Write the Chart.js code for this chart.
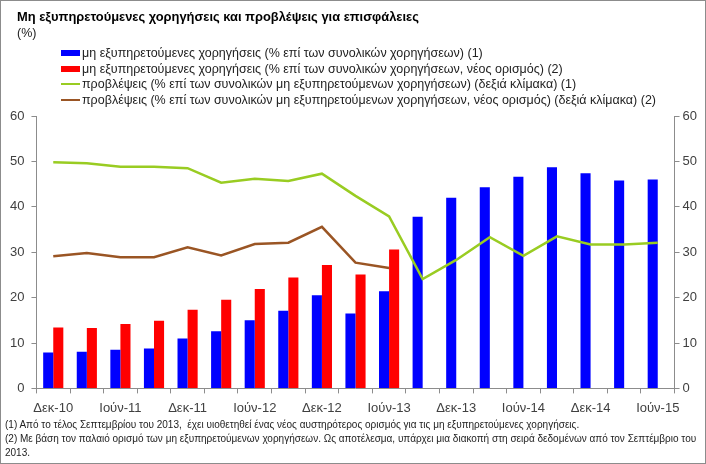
<!DOCTYPE html>
<html>
<head>
<meta charset="utf-8">
<script src="https://cdn.jsdelivr.net/npm/chart.js@4"></script>
<style>
  html, body { margin: 0; padding: 0; background: #fff; }
  #wrap { position: relative; width: 706px; height: 464px; box-sizing: border-box; border: 1px solid #8c8c8c; background: #fff; overflow: hidden; font-family: "Liberation Sans", Arial, sans-serif; }
  #title { position: absolute; left: 16px; top: 8px; font-size: 12.9px; font-weight: bold; color: #000; white-space: nowrap; }
  #unit { position: absolute; left: 16px; top: 25px; font-size: 12.5px; color: #222; }
  #legend { position: absolute; left: 60px; top: 44px; }
  .li { position: absolute; left: 0; height: 16px; white-space: nowrap; font-size: 12.5px; color: #222; line-height: 16px; }
  .mk { position: absolute; left: 0; width: 19px; }
  .lt { position: absolute; left: 21px; top: 0; }
  #cbox { position: absolute; left: 0; top: 0; width: 704px; height: 422px; }
  #notes { position: absolute; left: 4px; top: 417px; font-size: 10px; line-height: 14px; color: #222; white-space: nowrap; font-family: "Liberation Sans", Arial, sans-serif; }
</style>
</head>
<body>
<div id="wrap">
  <div id="cbox"><canvas id="c"></canvas></div>
  <div id="title">Μη εξυπηρετούμενες χορηγήσεις και προβλέψεις για επισφάλειες</div>
  <div id="unit">(%)</div>
  <div id="legend"></div>
  <div id="notes">
    (1) Από το τέλος Σεπτεμβρίου του 2013,&nbsp; έχει υιοθετηθεί ένας νέος αυστηρότερος ορισμός για τις μη εξυπηρετούμενες χορηγήσεις.<br>
    (2) Με βάση τον παλαιό ορισμό των μη εξυπηρετούμενων χορηγήσεων. Ως αποτέλεσμα, υπάρχει μια διακοπή στη σειρά δεδομένων από τον Σεπτέμβριο του<br>
    2013.
  </div>
</div>
<script>
// ---- data ----
const categories = ['Δεκ-10','Μαρ-11','Ιούν-11','Σεπ-11','Δεκ-11','Μαρ-12','Ιούν-12','Σεπ-12','Δεκ-12','Μαρ-13','Ιούν-13','Σεπ-13','Δεκ-13','Μαρ-14','Ιούν-14','Σεπ-14','Δεκ-14','Μαρ-15','Ιούν-15'];
const nplNewDef = [7.9, 8.1, 8.5, 8.8, 11.0, 12.6, 15.0, 17.1, 20.5, 16.5, 21.4, 37.8, 42.0, 44.3, 46.6, 48.7, 47.4, 45.8, 46.0];
const nplOldDef = [13.4, 13.3, 14.2, 14.9, 17.3, 19.5, 21.9, 24.4, 27.2, 25.1, 30.6, null, null, null, null, null, null, null, null];
const provNewDef = [49.8, 49.6, 48.8, 48.8, 48.5, 45.3, 46.2, 45.7, 47.3, 42.4, 37.9, 24.1, 28.3, 33.3, 29.2, 33.5, 31.7, 31.7, 32.1];
const provOldDef = [29.1, 29.8, 28.9, 28.9, 31.1, 29.3, 31.8, 32.1, 35.6, 27.7, 26.5, null, null, null, null, null, null, null, null];
const seriesNames = [
  'μη  εξυπηρετούμενες χορηγήσεις (% επί των συνολικών χορηγήσεων) (1)',
  'μη  εξυπηρετούμενες χορηγήσεις (% επί των συνολικών χορηγήσεων, νέος ορισμός) (2)',
  'προβλέψεις (% επί των συνολικών μη εξυπηρετούμενων χορηγήσεων) (δεξιά κλίμακα) (1)',
  'προβλέψεις (% επί των συνολικών μη εξυπηρετούμενων χορηγήσεων, νέος ορισμός) (δεξιά κλίμακα) (2)'
];
const yTicks = [0, 10, 20, 30, 40, 50, 60];

const BLUE = '#0000ff', RED = '#ff0000', GREEN = '#99cc22', BROWN = '#9a5524';
const AXIS = '#8c8c8c', TXT = '#404040';
const tickFont = { family: '"Liberation Sans", Arial, sans-serif', size: 13 };

const datasets = [
  { type: 'bar', label: seriesNames[0], data: nplNewDef, backgroundColor: BLUE, yAxisID: 'y', order: 2, categoryPercentage: 0.6, barPercentage: 1.0 },
  { type: 'bar', label: seriesNames[1], data: nplOldDef, backgroundColor: RED, yAxisID: 'y', order: 2, categoryPercentage: 0.6, barPercentage: 1.0 },
  { type: 'line', label: seriesNames[2], data: provNewDef, borderColor: GREEN, backgroundColor: GREEN, borderWidth: 2.5, pointRadius: 0, tension: 0, yAxisID: 'y1', order: 0, spanGaps: false },
  { type: 'line', label: seriesNames[3], data: provOldDef, borderColor: BROWN, backgroundColor: BROWN, borderWidth: 2.5, pointRadius: 0, tension: 0, yAxisID: 'y1', order: 0, spanGaps: false }
];

const yScale = (pos) => ({
  position: pos,
  min: yTicks[0], max: yTicks[yTicks.length - 1],
  afterBuildTicks: (s) => { s.ticks = yTicks.map(v => ({ value: v })); },
  ticks: { color: TXT, font: tickFont, padding: pos === 'left' ? 7 : 3 },
  grid: { drawOnChartArea: false, tickLength: 5, color: AXIS, lineWidth: 1 },
  border: { color: AXIS, width: 1 }
});

const chart = new Chart(document.getElementById('c'), {
  data: { labels: categories, datasets },
  options: {
    responsive: true, maintainAspectRatio: false, animation: false,
    layout: { padding: { top: 115, left: 2, right: 5, bottom: 0 } },
    plugins: { legend: { display: false }, title: { display: false }, tooltip: { enabled: false } },
    scales: {
      x: {
        offset: true,
        grid: { offset: true, drawOnChartArea: false, tickLength: 5, color: AXIS },
        border: { color: AXIS },
        ticks: { autoSkip: false, maxRotation: 0, minRotation: 0, color: TXT, font: tickFont, padding: 7,
          callback: (v, i) => (i % 2 === 0 ? categories[i] : '') }
      },
      y: yScale('left'),
      y1: yScale('right')
    }
  }
});

// HTML legend built from the chart's datasets
const lg = document.getElementById('legend');
const rowTops = [0, 15.5, 31, 47];
chart.data.datasets.forEach((ds, i) => {
  const row = document.createElement('div');
  row.className = 'li';
  row.style.top = rowTops[i] + 'px';
  const mk = document.createElement('div');
  mk.className = 'mk';
  if (ds.type === 'bar') { mk.style.top = '5px'; mk.style.height = '6px'; mk.style.background = ds.backgroundColor; }
  else { mk.style.top = '7px'; mk.style.height = '2px'; mk.style.background = ds.borderColor; }
  const t = document.createElement('span');
  t.className = 'lt';
  t.textContent = ds.label;
  row.appendChild(mk); row.appendChild(t);
  lg.appendChild(row);
});
</script>
</body>
</html>
